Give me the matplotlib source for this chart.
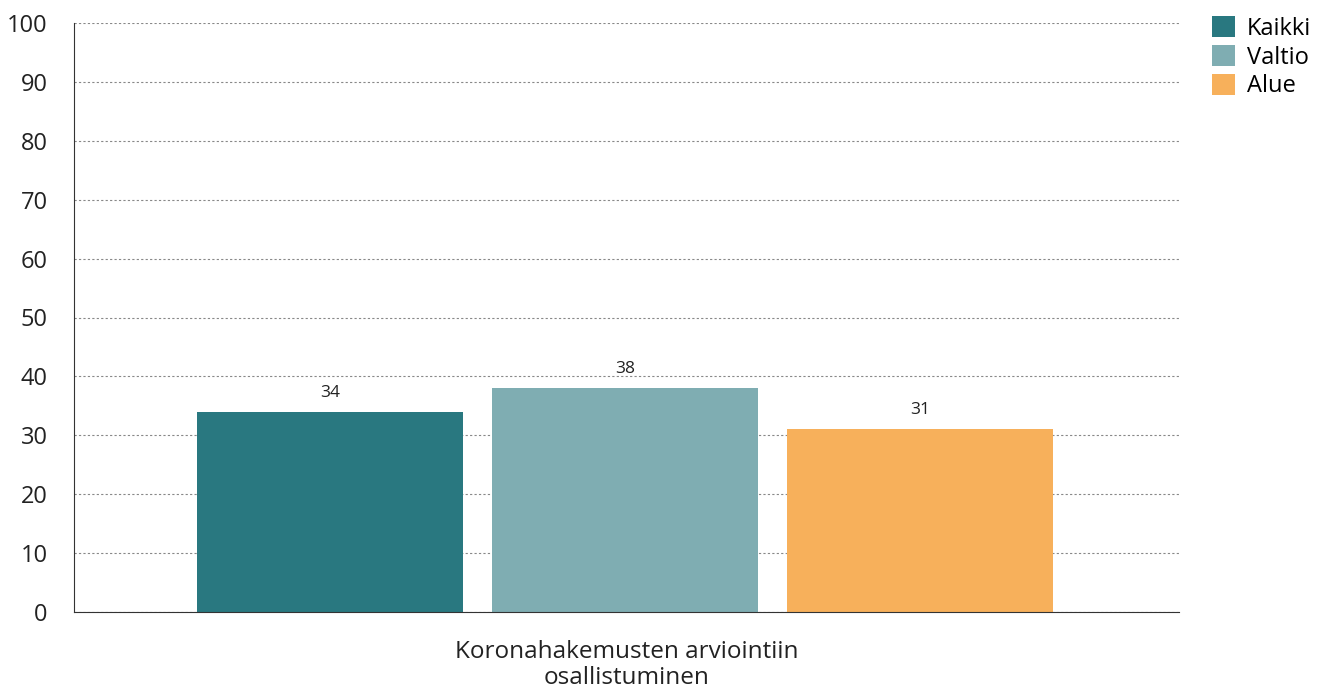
import matplotlib.pyplot as plt
import numpy as np

plt.rcParams['font.family'] = ['Open Sans', 'DejaVu Sans']

category = 'Koronahakemusten arviointiin\nosallistuminen'
series = ['Kaikki', 'Valtio', 'Alue']
values = [34, 38, 31]
colors = ['#297880', '#7fadb2', '#f7b05b']

fig = plt.figure(figsize=(13.18, 6.91), dpi=100)
ax = fig.add_axes([74 / 1318, 1 - 612 / 691, 1105 / 1318, 589 / 691])

width = 0.2407
gap = 0.0262
center = -0.0015
offsets = center + (np.arange(len(series)) - 1) * (width + gap)
for off, name, v, c in zip(offsets, series, values, colors):
    ax.bar(off, v, width=width, color=c, label=name, zorder=2)
    ax.text(off, v + 1.9, str(v), ha='center', va='bottom', fontsize=12.5, color='#222222')

ax.set_xlim(-0.5, 0.5)
ax.set_ylim(0, 100)
ax.set_yticks(range(0, 101, 10))
ax.set_xticks([0])
ax.set_xticklabels([category], fontsize=17.5, color='#222222', linespacing=1.15)
ax.tick_params(axis='y', length=0, labelsize=17, colors='#222222', pad=19)
ax.tick_params(axis='x', length=0, colors='#222222', pad=20)

ax.yaxis.grid(True, linestyle=(0, (2, 2)), color='#888888', linewidth=0.8, zorder=0)
ax.set_axisbelow(True)
for s in ['top', 'right']:
    ax.spines[s].set_visible(False)
ax.spines['left'].set_color('#333333')
ax.spines['bottom'].set_color('#333333')

ax.legend(loc='upper left', bbox_to_anchor=(1.021, 1.028), frameon=False, fontsize=17,
          handlelength=1.0, handleheight=1.0, handletextpad=0.5, labelspacing=0.18,
          borderaxespad=0)

fig.savefig('out.png', dpi=100)
